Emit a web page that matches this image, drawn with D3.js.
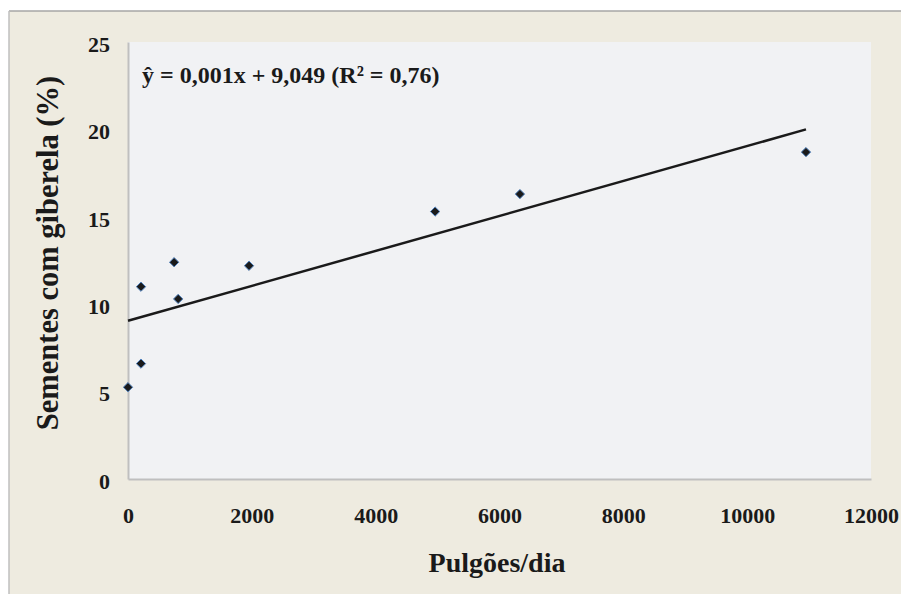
<!DOCTYPE html>
<html>
<head>
<meta charset="utf-8">
<script src="https://cdn.jsdelivr.net/npm/d3@7"></script>
<style>
  body { margin: 0; background: #fff; }
  text { font-family: "Liberation Serif", "Times New Roman", serif; font-weight: bold; fill: #1a1a1a; }
</style>
</head>
<body>
<svg id="chart" width="901" height="594"></svg>
<script>
// data
const pulgoes = [0, 210, 210, 745, 810, 1955, 4960, 6330, 10950];
const sementes = [5.25, 6.6, 11.0, 12.4, 10.3, 12.2, 15.3, 16.3, 18.7];
const xTicks = [0, 2000, 4000, 6000, 8000, 10000, 12000];
const yTicks = [0, 5, 10, 15, 20, 25];
const slope = 0.001, intercept = 9.049;
const equation = 'ŷ = 0,001x + 9,049 (R² = 0,76)';

const data = pulgoes.map((x, i) => ({ x, y: sementes[i] }));

const svg = d3.select('#chart');
const margin = { left: 128, right: 30, top: 42, bottom: 115 };
const width = 901, height = 594;

// outer frame
svg.append('rect').attr('x', 9).attr('y', 11).attr('width', width).attr('height', height)
  .attr('fill', '#eeebe0');
svg.append('line').attr('x1', 9).attr('x2', width).attr('y1', 11).attr('y2', 11)
  .attr('stroke', '#a6a6a6').attr('stroke-width', 1.5);
svg.append('line').attr('x1', 9).attr('x2', 9).attr('y1', 11).attr('y2', height)
  .attr('stroke', '#bfbfbf').attr('stroke-width', 1.5);

const xScale = d3.scaleLinear().domain([0, 12000]).range([margin.left, 871]);
const yScale = d3.scaleLinear().domain([0, 25]).range([479, margin.top]);

// plot area
svg.append('rect')
  .attr('x', xScale(0)).attr('y', yScale(25))
  .attr('width', xScale(12000) - xScale(0)).attr('height', yScale(0) - yScale(25))
  .attr('fill', '#f1f2f4');

const yAxis = d3.axisLeft(yScale).tickValues(yTicks).tickFormat(d3.format('d'))
  .tickSize(0).tickPadding(18);
const yAxisG = svg.append('g').attr('transform', `translate(${xScale(0)},0)`).call(yAxis);
yAxisG.select('.domain').attr('stroke', '#bfbfbf').attr('stroke-width', 2);
yAxisG.selectAll('text').attr('font-size', 22).attr('font-family', null).attr('fill', '#1a1a1a')
  .attr('dy', '0.42em');

const xAxis = d3.axisBottom(xScale).tickValues(xTicks).tickFormat(d3.format('d'))
  .tickSize(0).tickPadding(28);
const xAxisG = svg.append('g').attr('transform', `translate(0,${yScale(0)})`).call(xAxis);
xAxisG.select('.domain').attr('stroke', '#bfbfbf').attr('stroke-width', 2);
xAxisG.selectAll('text').attr('font-size', 22).attr('font-family', null).attr('fill', '#1a1a1a');

// trend line
const xMax = d3.max(pulgoes);
svg.append('line')
  .attr('x1', xScale(0)).attr('y1', yScale(intercept))
  .attr('x2', xScale(xMax)).attr('y2', yScale(slope * xMax + intercept))
  .attr('stroke', '#1a1a1a').attr('stroke-width', 2.5);

// points
svg.selectAll('.pt').data(data).enter().append('path')
  .attr('class', 'pt')
  .attr('d', d3.symbol(d3.symbolDiamond2, 55))
  .attr('transform', d => `translate(${xScale(d.x)},${yScale(d.y)})`)
  .attr('fill', '#1a1a1a')
  .attr('stroke', '#4f81bd').attr('stroke-width', 1);

// equation
svg.append('text').attr('x', 142).attr('y', 83).attr('font-size', 24).text(equation);

// axis titles
svg.append('text').attr('x', 497).attr('y', 572).attr('text-anchor', 'middle')
  .attr('font-size', 28).text('Pulgões/dia');
svg.append('text').attr('transform', 'translate(58,253) rotate(-90)')
  .attr('text-anchor', 'middle').attr('font-size', 30.5).text('Sementes com giberela (%)');
</script>
</body>
</html>
